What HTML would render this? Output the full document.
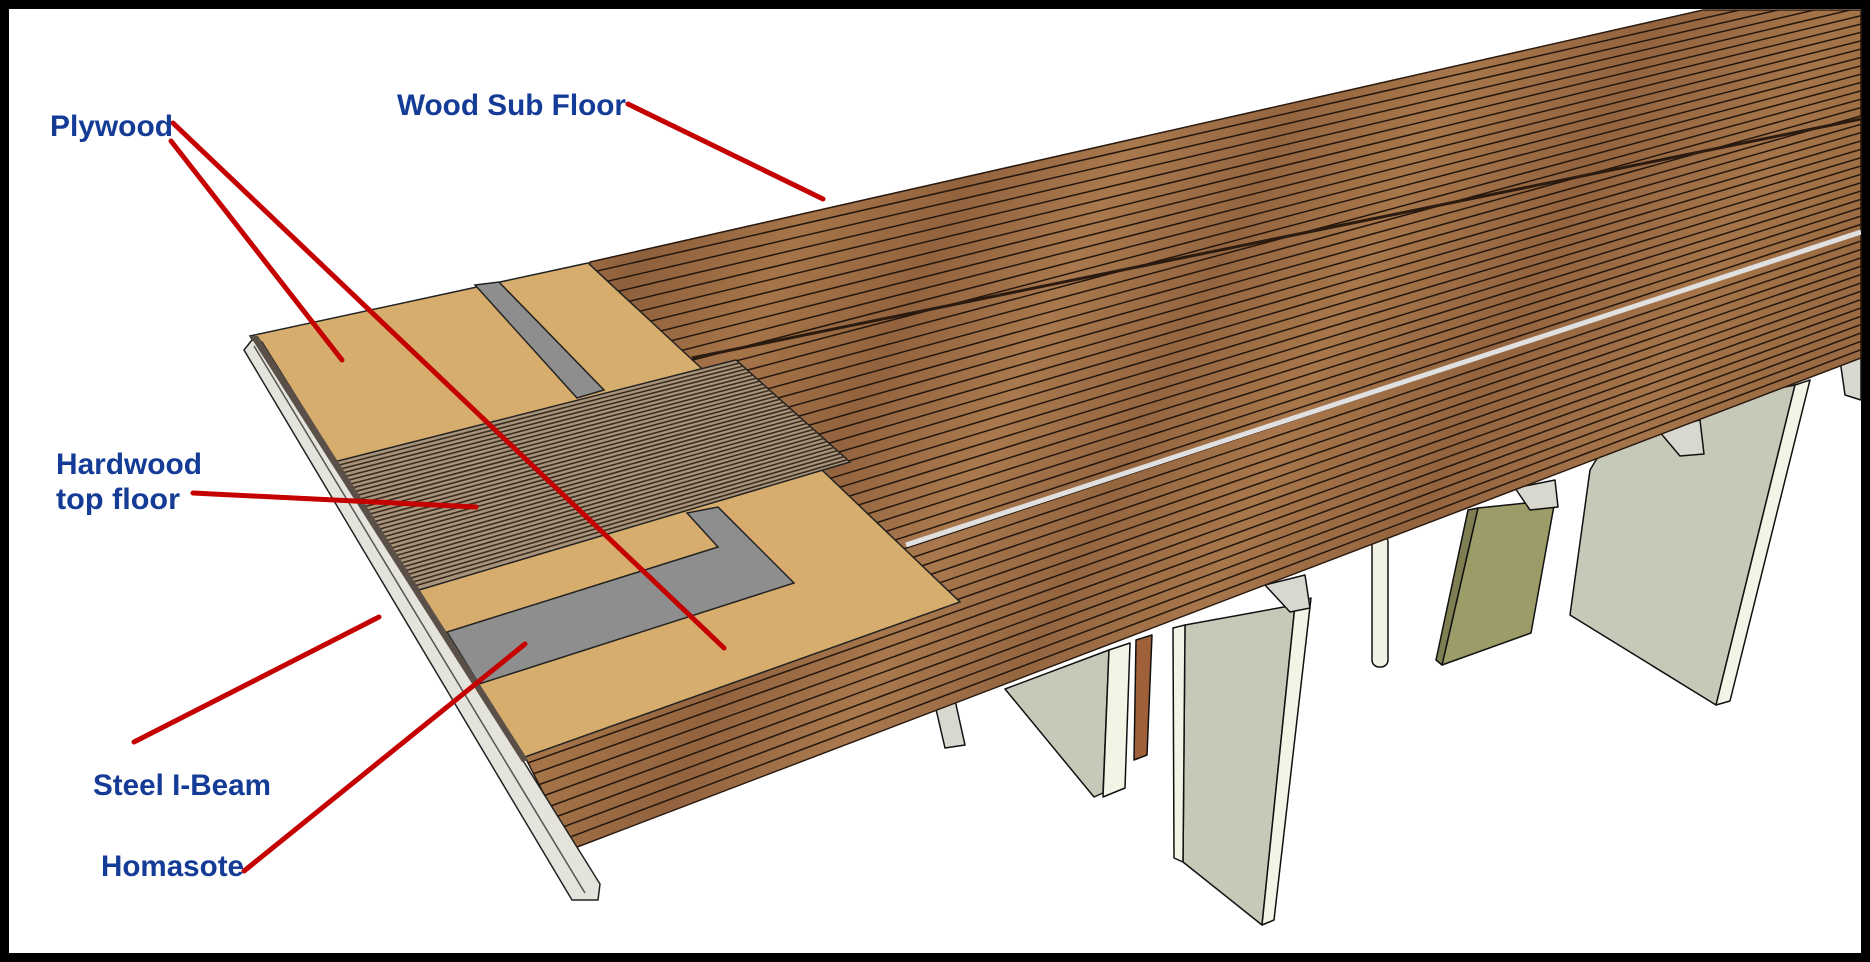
<!DOCTYPE html>
<html><head><meta charset="utf-8"><style>
html,body{margin:0;padding:0;background:#000;}
svg{display:block;}
</style></head><body>
<svg id="s" width="1870" height="962" viewBox="0 0 1870 962" xmlns="http://www.w3.org/2000/svg">
<defs>
<linearGradient id="wood" x1="0" y1="0" x2="1" y2="0.3">
<stop offset="0" stop-color="#9a6840"/><stop offset="0.08" stop-color="#a8764c"/><stop offset="0.16" stop-color="#8d603c"/>
<stop offset="0.26" stop-color="#a67449"/><stop offset="0.36" stop-color="#92633e"/><stop offset="0.46" stop-color="#a9784e"/>
<stop offset="0.56" stop-color="#946640"/><stop offset="0.66" stop-color="#a8764b"/><stop offset="0.78" stop-color="#93643f"/>
<stop offset="0.9" stop-color="#a5744a"/><stop offset="1" stop-color="#9a6a42"/>
</linearGradient>
<clipPath id="deckclip"><polygon points="525,757 590,262 1703,10 1861,10 1861,358 572,849"/></clipPath>
<clipPath id="hwclip"><polygon points="334,462 736,360 850,462 419,590"/></clipPath>
</defs>
<rect x="9" y="9" width="1852" height="944" fill="#fff"/>

<g stroke="#111" stroke-width="1.5" stroke-linejoin="round">
<polygon points="1620,420 1795,385 1716,705 1570,615 1590,470" fill="#c6c8b8"/>
<polygon points="1795,385 1810,380 1730,701 1716,705" fill="#f3f3e6"/>
<polygon points="1478,508 1555,500 1531,633 1442,665" fill="#9c9c68"/>
<polygon points="1468,510 1478,508 1442,665 1436,660" fill="#7e7e52"/>
<rect x="1372" y="535" width="16" height="132" rx="7" fill="#f2f2e4"/>
<polygon points="1005,689 1109,650 1103,793 1094,797" fill="#c6c8b8"/>
<polygon points="1109,650 1130,643 1125,788 1103,797" fill="#f3f3e6"/>
<polygon points="1136,640 1152,635 1147,755 1134,760" fill="#a0603a"/>
<polygon points="1185,625 1295,605 1262,925 1183,862" fill="#c6c8b8"/>
<polygon points="1295,605 1311,598 1274,920 1262,925" fill="#f3f3e6"/>
<polygon points="1173,628 1185,625 1183,862 1174,858" fill="#f3f3e6"/>
<polygon points="1265,585 1305,575 1310,608 1290,612" fill="#d8d8d0"/>
<polygon points="1515,488 1555,480 1558,507 1530,510" fill="#d8d8d0"/>
<polygon points="1658,430 1700,420 1704,454 1680,456" fill="#d8d8d0"/>
<polygon points="935,705 955,700 965,745 945,748" fill="#d8d8d0"/>
<polygon points="1840,360 1861,355 1861,400 1845,395" fill="#d8d8d0"/>
</g>

<polygon points="525,757 590,262 1703,10 1861,10 1861,358 572,849" fill="url(#wood)" stroke="#2a1a10" stroke-width="1.5"/>
<g id="planks" clip-path="url(#deckclip)" stroke="#24160c" stroke-width="1.5"></g>
<g clip-path="url(#deckclip)">
<line x1="906" y1="545" x2="1861" y2="232" stroke="#e0e0e0" stroke-width="5"/>
<line x1="692" y1="358" x2="1861" y2="119" stroke="#2a1a10" stroke-width="3"/>
</g>

<polygon points="250,336 588,263 700,367 823,471 960,602 525,757" fill="#d6ad6d" stroke="#222" stroke-width="1.5"/>
<polygon points="475,285 499,282 604,390 577,398" fill="#8e8e8e" stroke="#222" stroke-width="1.5"/>
<polygon points="687,513 718,507 794,583 479,684 447,632 718,547" fill="#8e8e8e" stroke="#222" stroke-width="1.5"/>
<polygon points="334,462 736,360 850,462 419,590" fill="#a8947a" stroke="#222" stroke-width="1.5"/>
<g id="hw" clip-path="url(#hwclip)" stroke="#3a2c20" stroke-width="1.6"></g>

<polygon points="244,350 252,340 262,342 600,884 598,900 572,900" fill="#e4e4dc" stroke="#222" stroke-width="1.5"/>
<line x1="254" y1="346" x2="585" y2="893" stroke="#555" stroke-width="1.5"/>
<polygon points="250,336 258,336 528,760 522,762" fill="#5a5048"/>

<g stroke="#c40000" stroke-width="5" stroke-linecap="round">
<line x1="173" y1="123" x2="724" y2="648"/>
<line x1="171" y1="141" x2="342" y2="360"/>
<line x1="628" y1="104" x2="823" y2="199"/>
<line x1="193" y1="493" x2="476" y2="507"/>
<line x1="379" y1="617" x2="134" y2="742"/>
<line x1="244" y1="871" x2="525" y2="644"/>
</g>

<g font-family="Liberation Sans, Arial, sans-serif" font-weight="bold" font-size="30" fill="#143c96">
<text x="50" y="136" textLength="123" lengthAdjust="spacingAndGlyphs">Plywood</text>
<text x="397" y="115" textLength="229" lengthAdjust="spacingAndGlyphs">Wood Sub Floor</text>
<text x="56" y="474" textLength="146" lengthAdjust="spacingAndGlyphs">Hardwood</text>
<text x="56" y="509" textLength="124" lengthAdjust="spacingAndGlyphs">top floor</text>
<text x="93" y="795" textLength="178" lengthAdjust="spacingAndGlyphs">Steel I-Beam</text>
<text x="101" y="876" textLength="143" lengthAdjust="spacingAndGlyphs">Homasote</text>
</g>
</svg>
<script>
(function(){
var NS="http://www.w3.org/2000/svg";
var g=document.getElementById("planks");
var N=46;
for(var i=1;i<N;i++){
 var t=i/N;
 var ry=-26+(358+26)*t, s=-0.225+(-0.381+0.225)*t;
 var x1=400, y1=ry+s*(x1-1861);
 var l=document.createElementNS(NS,"line");
 l.setAttribute("x1",x1);l.setAttribute("y1",y1.toFixed(1));
 l.setAttribute("x2",1861);l.setAttribute("y2",ry.toFixed(1));
 g.appendChild(l);
}
var h=document.getElementById("hw");
var M=34;
for(var j=1;j<M;j++){
 var u=j/M;
 var ax=334+(419-334)*u, ay=462+(590-462)*u;
 var bx=736+(850-736)*u, by=360+(462-360)*u;
 var k=document.createElementNS(NS,"line");
 k.setAttribute("x1",ax-20);k.setAttribute("y1",ay+5);
 k.setAttribute("x2",bx+20);k.setAttribute("y2",by-5);
 h.appendChild(k);
}
})();
</script>
</body></html>
